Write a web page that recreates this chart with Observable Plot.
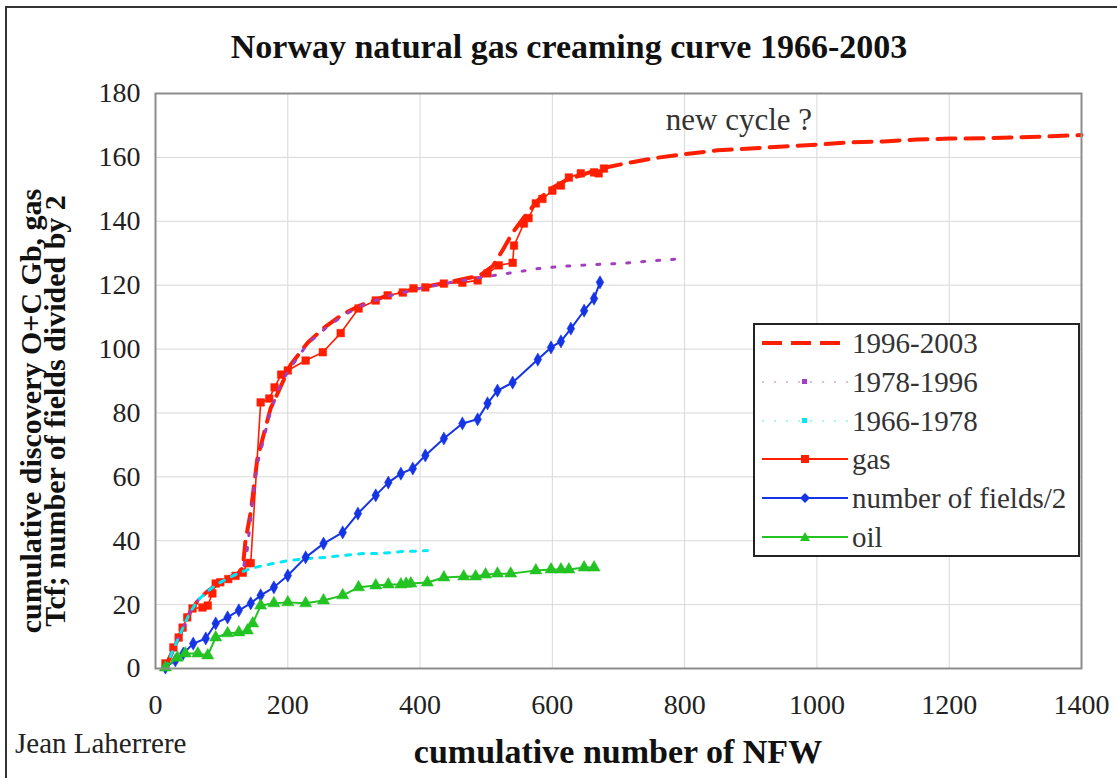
<!DOCTYPE html>
<html>
<head>
<meta charset="utf-8">
<script src="https://cdn.jsdelivr.net/npm/d3@7"></script>
<script src="https://cdn.jsdelivr.net/npm/@observablehq/plot@0.6"></script>
<style>
  html, body { margin: 0; padding: 0; background: #fff; }
  body { width: 1117px; height: 778px; overflow: hidden; position: relative; font-family: 'Liberation Serif', 'Times New Roman', serif; color: #222; }
  #frame { position: absolute; left: 5px; top: 6px; width: 1300px; height: 1000px; border-left: 2px solid #333; border-top: 2px solid #333; pointer-events: none; z-index: 5; }
  #title { position: absolute; left: 0; top: 30px; width: 1138px; text-align: center; font-weight: bold; font-size: 34px; line-height: 34px; color: #111; white-space: nowrap; z-index: 2; }
  #chart { position: absolute; left: 0; top: 70px; z-index: 1; }
  #legend { position: absolute; left: 753px; top: 323px; width: 323px; height: 230px; border: 2px solid #222; background: #fff; z-index: 3; }
  .row { position: absolute; left: 0; height: 30px; width: 320px; }
  .row svg { position: absolute; left: 7px; top: 0; }
  .row span { position: absolute; left: 97px; top: 0; font-size: 29px; line-height: 30px; color: #333; white-space: nowrap; }
  #author { position: absolute; left: 15px; top: 727px; font-size: 29px; line-height: 32px; color: #222; z-index: 2; }
</style>
</head>
<body>
<div id="chart"></div>
<div id="title">Norway natural gas creaming curve 1966-2003</div>
<div id="author">Jean Laherrere</div>
<div id="legend"></div>
<div id="frame"></div>
<script>
// ---------- data ----------
const xTicks = [0, 200, 400, 600, 800, 1000, 1200, 1400];
const yTicks = [0, 20, 40, 60, 80, 100, 120, 140, 160, 180];

// gas cumulative discovery (Tcf)
const gasX = [15, 27, 35, 41, 48, 56, 71, 79, 86, 91, 98, 110, 121, 132, 139, 144, 159, 172, 180, 190, 200, 227, 253, 280, 307, 333, 351, 374, 390, 408, 436, 464, 487, 502, 519, 540, 542, 557, 564, 575, 585, 600, 613, 625, 643, 663, 670, 678];
const gasY = [1.6, 6.6, 9.7, 12.8, 16, 18.8, 19.1, 19.7, 23.5, 26.6, 27, 28, 29, 30, 33, 33, 83.3, 84.5, 88, 92, 93.3, 96.4, 99, 105, 112.7, 115.2, 116.8, 117.7, 119, 119.3, 120.5, 120.8, 121.5, 123.7, 126.2, 127, 132.4, 139.3, 141, 145.6, 147, 149.6, 151.2, 153.7, 155, 155.3, 155, 156.5];

// number of fields / 2
const fieldsX = [15, 30, 42, 57, 76, 91, 109, 126, 144, 159, 179, 200, 227, 254, 283, 306, 333, 352, 371, 389, 408, 436, 464, 487, 502, 517, 540, 578, 598, 613, 628, 648, 663, 672];
const fieldsY = [0.3, 2.5, 4.7, 7.8, 9.4, 14.1, 16, 18.2, 20.4, 22.9, 25.4, 29.1, 34.8, 39.1, 42.6, 48.5, 54.2, 58.2, 61, 62.6, 66.7, 72, 76.7, 78, 83, 87, 89.5, 96.7, 100.5, 102.4, 106.4, 112, 115.8, 120.9];

// oil (Gb)
const oilX = [15, 33, 45, 64, 79, 91, 109, 126, 139, 147, 159, 179, 200, 227, 254, 283, 307, 333, 352, 371, 379, 386, 411, 436, 466, 484, 499, 517, 537, 575, 598, 613, 625, 648, 663];
const oilY = [0.3, 3.4, 4.7, 4.7, 4.1, 9.7, 11, 11.3, 11.9, 14.1, 19.7, 20.4, 20.7, 20.4, 21.3, 22.9, 25.4, 26, 26.3, 26.3, 26.5, 26.6, 26.9, 28.5, 28.8, 28.8, 29.4, 29.7, 29.7, 30.7, 31, 31, 31, 31.6, 31.6];

// creaming-curve models
const fit1966X = [15, 25, 41, 52, 65, 80, 95, 110, 125, 144, 162, 179, 200, 230, 257, 284, 313, 336, 356, 373, 392, 411];
const fit1966Y = [0, 5, 12.5, 17.5, 21.6, 24.4, 26.6, 28.3, 29.8, 31.3, 32.2, 32.9, 33.8, 34.4, 34.8, 35.4, 36, 36, 36.3, 36.6, 36.7, 36.9];

const fit1978X = [15, 25, 41, 52, 65, 80, 95, 110, 125, 132, 138, 143, 148, 154, 163, 172, 185, 200, 230, 257, 284, 310, 350, 400, 450, 500, 542, 579, 616, 669, 703, 750, 802];
const fit1978Y = [0, 5, 12.5, 17.5, 21.6, 24.4, 26.6, 28.3, 29.8, 31, 36, 45, 54.8, 64, 71.4, 79, 87, 93, 101.7, 106.5, 110.5, 113.5, 116.5, 119, 121, 122.7, 124, 125.2, 125.9, 126.5, 126.8, 127.6, 128.4];

const fit1996X = [15, 25, 41, 52, 65, 80, 95, 110, 125, 132, 136, 144, 148, 154, 162, 174, 181, 204, 230, 257, 284, 310, 350, 400, 450, 490, 510, 525, 540, 560, 580, 600, 620, 643, 673, 708, 752, 799, 850, 900, 950, 1001, 1051, 1101, 1152, 1202, 1252, 1304, 1354, 1400];
const fit1996Y = [0, 5, 12.5, 17.5, 21.6, 24.4, 26.6, 28.3, 29.8, 31.5, 40, 49, 55.7, 65.7, 72, 81.4, 84.5, 95, 102, 107, 111, 113.7, 116.7, 119.2, 121.2, 123, 126, 131, 136.5, 142, 147, 150.5, 152.8, 154.4, 156.5, 158, 159.7, 161, 162.2, 162.8, 163.4, 164, 164.7, 165, 165.6, 165.9, 166, 166.3, 166.6, 167];

const legendLabels = ["1996-2003", "1978-1996", "1966-1978", "gas", "number of fields/2", "oil"];
const annotation = [{x: 882, y: 171.6, text: "new cycle ?"}];

// ---------- helpers ----------
const zip = (xs, ys) => xs.map((x, i) => ({x, y: ys[i]}));
const gas = zip(gasX, gasY), fields = zip(fieldsX, fieldsY), oil = zip(oilX, oilY);
const f66 = zip(fit1966X, fit1966Y), f78 = zip(fit1978X, fit1978Y), f96 = zip(fit1996X, fit1996Y);

const RED = "#ff1e00", BLUE = "#1434e6", GREEN = "#22c322", PURPLE = "#a33fbf", CYAN = "#00e8f5";
const FONT = "'Liberation Serif', 'Times New Roman', serif";

const chart = Plot.plot({
  width: 1117, height: 708,
  marginLeft: 155, marginRight: 36, marginTop: 23, marginBottom: 110,
  style: {fontFamily: FONT, fontSize: "28px", color: "#222", background: "transparent", overflow: "visible"},
  x: {domain: [0, 1400]},
  y: {domain: [0, 180]},
  marks: [
    Plot.gridX(xTicks, {stroke: "#d8d8d8", strokeOpacity: 1}),
    Plot.gridY(yTicks, {stroke: "#d8d8d8", strokeOpacity: 1}),
    Plot.axisX({ticks: xTicks, tickFormat: d => String(d), tickSize: 0, tickPadding: 26, label: null, fontSize: 28}),
    Plot.axisY({ticks: yTicks, tickFormat: d => String(d), tickSize: 0, tickPadding: 15, label: null, fontSize: 28}),
    Plot.line(gas, {x: "x", y: "y", stroke: RED, strokeWidth: 1.6}),
    Plot.dot(gas, {x: "x", y: "y", symbol: "square", r: 4.3, fill: RED, stroke: RED, strokeWidth: 0.5}),
    Plot.line(f96, {x: "x", y: "y", stroke: RED, strokeWidth: 4, strokeDasharray: "18,10"}),
    Plot.line(f78, {x: "x", y: "y", stroke: PURPLE, strokeWidth: 3, strokeDasharray: "3,12"}),
    Plot.line(f66, {x: "x", y: "y", stroke: CYAN, strokeWidth: 3, strokeDasharray: "5,8"}),
    Plot.line(fields, {x: "x", y: "y", stroke: BLUE, strokeWidth: 2}),
    Plot.dot(fields, {x: "x", y: "y", symbol: "diamond", r: 4, fill: BLUE, stroke: BLUE, strokeWidth: 0.5}),
    Plot.line(oil, {x: "x", y: "y", stroke: GREEN, strokeWidth: 2}),
    Plot.dot(oil, {x: "x", y: "y", symbol: "triangle", r: 4.5, fill: GREEN, stroke: GREEN, strokeWidth: 0.5}),
    Plot.text(annotation, {x: "x", y: "y", text: "text", fontSize: 31, fill: "#333", fontFamily: FONT}),
    Plot.frame({stroke: "#8c8c8c", strokeWidth: 2})
  ]
});
document.getElementById("chart").appendChild(chart);

// axis titles (added as real text to the SVG)
const svg = d3.select(chart);
const yLab = svg.append("g").attr("font-family", FONT).attr("font-weight", "bold").attr("font-size", 30).attr("fill", "#111").attr("text-anchor", "middle");
yLab.append("text").attr("transform", "translate(41,341) rotate(-90)").text("cumulative discovery O+C Gb, gas");
yLab.append("text").attr("transform", "translate(65,341) rotate(-90)").text("Tcf; number of fields divided by 2");
svg.append("text").attr("x", 618).attr("y", 693).attr("text-anchor", "middle")
  .attr("font-family", FONT).attr("font-weight", "bold").attr("font-size", 34).attr("fill", "#111")
  .text("cumulative number of NFW");

// legend
const legend = document.getElementById("legend");
const samples = [
  `<line x1="0" y1="15" x2="86" y2="15" stroke="${RED}" stroke-width="4" stroke-dasharray="20,9"/>`,
  `<line x1="0" y1="15" x2="86" y2="15" stroke="${PURPLE}" stroke-width="2" stroke-dasharray="2,10" opacity="0.35"/><rect x="40" y="12" width="5" height="5" fill="${PURPLE}"/>`,
  `<line x1="0" y1="15" x2="86" y2="15" stroke="${CYAN}" stroke-width="2" stroke-dasharray="2,10" opacity="0.35"/><rect x="40" y="12" width="5" height="5" fill="${CYAN}"/>`,
  `<line x1="0" y1="15" x2="86" y2="15" stroke="${RED}" stroke-width="2"/><rect x="39" y="11" width="8" height="8" fill="${RED}"/>`,
  `<line x1="0" y1="15" x2="86" y2="15" stroke="${BLUE}" stroke-width="2"/><path d="M43,10 L48,15 L43,20 L38,15 Z" fill="${BLUE}"/>`,
  `<line x1="0" y1="15" x2="86" y2="15" stroke="${GREEN}" stroke-width="2"/><path d="M43,10 L48,19 L38,19 Z" fill="${GREEN}"/>`
];
legendLabels.forEach((lab, i) => {
  const row = document.createElement("div");
  row.className = "row";
  row.style.top = (3 + i * 38.8) + "px";
  row.innerHTML = `<svg width="90" height="30">${samples[i]}</svg><span>${lab}</span>`;
  legend.appendChild(row);
});
</script>
</body>
</html>
